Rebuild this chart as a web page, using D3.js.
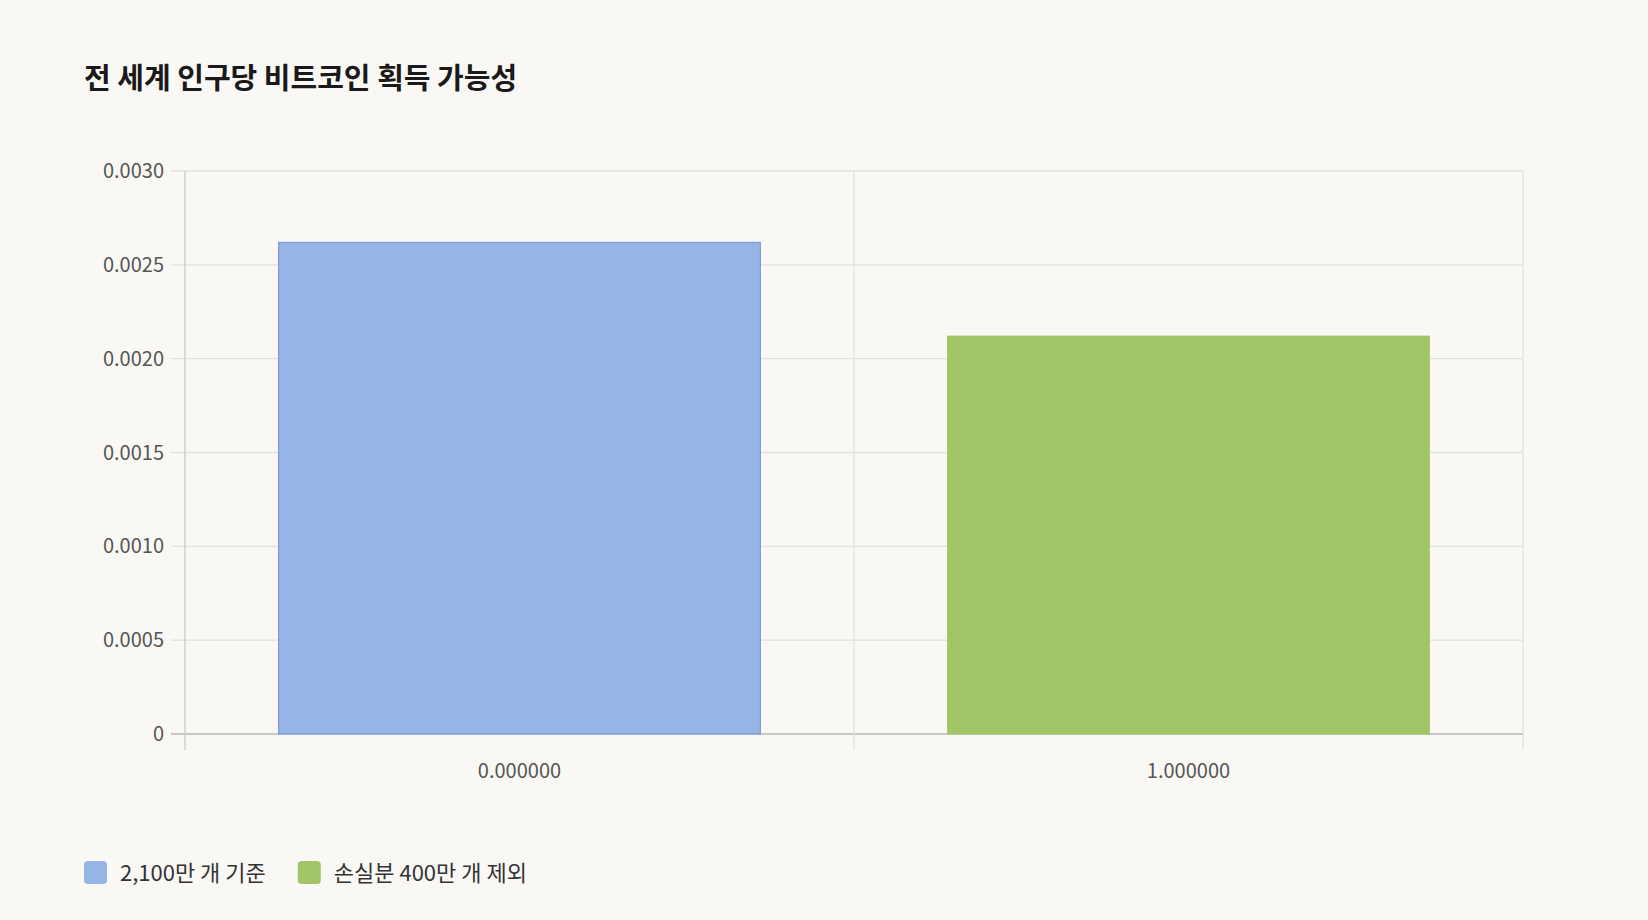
<!DOCTYPE html>
<html>
<head>
<meta charset="utf-8">
<script src="https://cdn.jsdelivr.net/npm/d3@7"></script>
<style>
  body { margin: 0; background: #f9f8f4; }
  svg { display: block; font-family: "Noto Sans CJK KR", "Noto Sans", sans-serif; }
</style>
</head>
<body>
<svg id="chart" width="1648" height="920"></svg>
<script>
// chart data
const categories = ["0.000000", "1.000000"];
const seriesNames = ["2,100만 개 기준", "손실분 400만 개 제외"];
const values = [0.00262, 0.00212];
const colours = ["#96b5e6", "#a1c467"];
const strokes = ["#6f92d4", "#a1c467"];
const yTicks = [0, 0.0005, 0.001, 0.0015, 0.002, 0.0025, 0.003];

const svg = d3.select("#chart");
const margin = { left: 185, right: 125, top: 171, bottom: 186 };
const width = 1648 - margin.left - margin.right;
const height = 920 - margin.top - margin.bottom;

svg.append("text")
  .attr("x", 84).attr("y", 89)
  .attr("font-size", 29).attr("font-weight", 600).attr("fill", "#1a1a1a")
  .text("전 세계 인구당 비트코인 획득 가능성");

const g = svg.append("g").attr("transform", `translate(${margin.left},${margin.top})`);

const x = d3.scaleBand().domain(categories).range([0, width]).paddingInner(0.28).paddingOuter(0.14);
const y = d3.scaleLinear().domain([0, 0.003]).range([height, 0]);

// horizontal grid + y labels
yTicks.forEach(t => {
  g.append("line")
    .attr("x1", -14).attr("x2", width)
    .attr("y1", y(t)).attr("y2", y(t))
    .attr("stroke", t === 0 ? "#c8c8c8" : "#e2e1dd").attr("stroke-width", t === 0 ? 2 : 1.3);
  g.append("text")
    .attr("x", -21).attr("y", y(t)).attr("dy", "0.35em")
    .attr("text-anchor", "end").attr("font-size", 20).attr("fill", "#555")
    .text(t === 0 ? "0" : t.toFixed(4));
});

// vertical band boundaries
const step = width / categories.length;
d3.range(categories.length + 1).forEach(i => {
  g.append("line")
    .attr("x1", i * step).attr("x2", i * step)
    .attr("y1", 0).attr("y2", height + 16)
    .attr("stroke", i === 0 ? "#c8c8c8" : "#e2e1dd").attr("stroke-width", 1.3);
});

g.selectAll("rect.bar").data(values).join("rect")
  .attr("class", "bar")
  .attr("x", (d, i) => x(categories[i]))
  .attr("y", d => y(d))
  .attr("width", x.bandwidth())
  .attr("height", d => height - y(d))
  .attr("fill", (d, i) => colours[i])
  .attr("stroke", (d, i) => strokes[i]).attr("stroke-width", 1);

// x labels
categories.forEach(c => {
  g.append("text")
    .attr("x", x(c) + x.bandwidth() / 2).attr("y", height + 44)
    .attr("text-anchor", "middle").attr("font-size", 20).attr("fill", "#555")
    .text(c);
});

// legend
let lx = 84;
seriesNames.forEach((name, i) => {
  const item = svg.append("g").attr("transform", `translate(${lx},861)`);
  item.append("rect").attr("width", 23).attr("height", 23).attr("rx", 4).attr("fill", colours[i]);
  const t = item.append("text").attr("x", 36).attr("y", 12).attr("dy", "0.35em")
    .attr("font-size", 22).attr("fill", "#333").text(name);
  lx += 36 + t.node().getComputedTextLength() + 32;
});
</script>
</body>
</html>
